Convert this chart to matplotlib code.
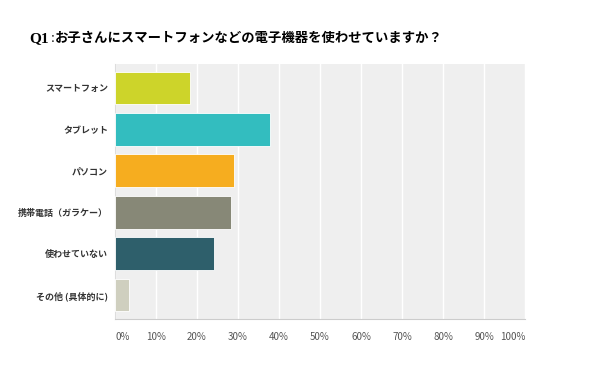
import matplotlib
matplotlib.use("Agg")
import matplotlib.pyplot as plt

plt.rcParams['font.family'] = ['Noto Sans CJK JP', 'DejaVu Sans']

# answers and share of respondents (%)
categories = ["スマートフォン", "タブレット", "パソコン", "携帯電話（ガラケー）", "使わせていない", "その他 (具体的に)"]
values = [18.3, 37.9, 28.9, 28.3, 24.1, 3.4]
colors = ["#cdd42a", "#33bdbf", "#f6ad1f", "#878877", "#2e5f6b", "#cfcfbf"]
ticks = [0, 10, 20, 30, 40, 50, 60, 70, 80, 90, 100]
tick_labels = [f"{t}%" for t in ticks]

fig = plt.figure(figsize=(6, 3.83), dpi=100)
ax = fig.add_axes([0.1917, 0.167, 0.6833, 0.666])
ax.set_facecolor("#efefef")

y = list(range(len(categories)))
ax.barh(y, values, height=0.79, color=colors, edgecolor="white", linewidth=0.6, zorder=3)
ax.set_ylim(len(categories) - 0.5 + 0.08, -0.5 - 0.08)
ax.set_xlim(0, 100)

ax.set_xticks(ticks)
ax.set_xticklabels(tick_labels, fontsize=7, color="#555555")
labels = ax.get_xticklabels()
labels[0].set_ha("left")
labels[-1].set_ha("right")
ax.set_yticks(y)
ax.set_yticklabels(categories, fontsize=6.5, fontweight="bold", color="#333333")
ax.tick_params(length=0)
ax.tick_params(axis="x", pad=9)
ax.tick_params(axis="y", pad=5)
ax.grid(axis="x", color="white", linewidth=1.0, zorder=1)

for s in ["top", "right"]:
    ax.spines[s].set_visible(False)
ax.spines["bottom"].set_color("#cccccc")
ax.spines["left"].set_color("#dddddd")

fig.text(0.048, 0.90, "Q1", fontsize=11, fontweight="bold", family="Liberation Serif", va="center")
fig.text(0.084, 0.90, ":", fontsize=10, family="Liberation Serif", va="center")
fig.text(0.092, 0.90, "お子さんにスマートフォンなどの電子機器を使わせていますか？",
         fontsize=9.6, fontweight="bold", va="center")

fig.savefig("out.png", dpi=100)
